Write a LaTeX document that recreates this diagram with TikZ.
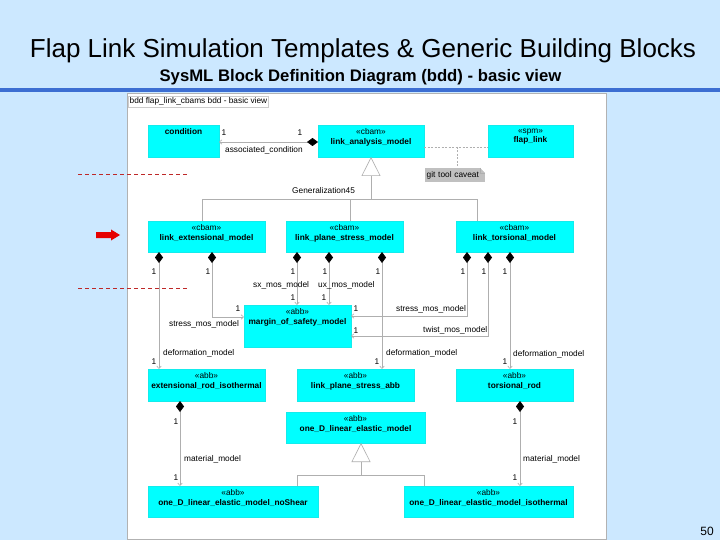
\documentclass[tikz,border=0pt]{standalone}
\usepackage{fontspec}
\setmainfont{Liberation Sans}
\usetikzlibrary{arrows.meta}
\definecolor{bgblue}{RGB}{204,232,255}
\definecolor{barblue}{RGB}{60,110,210}
\definecolor{cyanbox}{RGB}{0,255,255}
\definecolor{lgray}{RGB}{175,175,175}
\definecolor{notegray}{RGB}{192,192,192}
\definecolor{dred}{RGB}{190,40,40}
\definecolor{arrred}{RGB}{230,0,0}
\begin{document}
\begin{tikzpicture}[x=1pt,y=-1pt,
  blk/.style={fill=cyanbox, draw=cyanbox!85!gray, line width=0.4pt, inner sep=0pt, outer sep=0pt, anchor=north west},
  bt/.style={anchor=north, align=center, inner sep=0pt, yshift=-3.5pt, font=\fontsize{8.3}{9.5}\selectfont},
  lab/.style={inner sep=0pt, font=\fontsize{8.3}{9.5}\selectfont},
  comp/.style={draw=lgray, line width=0.6pt, arrows={Diamond[length=11pt,width=8pt,fill=black,color=black]-Straight Barb[length=2.5pt,width=4.5pt,color=lgray]}},
  gen/.style={draw=lgray, line width=0.6pt},
  gentri/.style={draw=lgray, line width=0.6pt, arrows={-Triangle[length=19pt,width=19pt,fill=white,color=lgray]}},
  dep/.style={draw=lgray, line width=0.5pt, dash pattern=on 2pt off 1.5pt},
  reddash/.style={draw=dred, line width=0.8pt, dash pattern=on 4pt off 3pt}
]
\useasboundingbox (0,0) rectangle (720,540);
\fill[bgblue] (0,0) rectangle (720,540);
% title
\node[inner sep=0pt, font=\fontsize{26}{30}\selectfont] (title) at (363,51) {Flap Link Simulation Templates \& Generic Building Blocks};
\node[inner sep=0pt, font=\bfseries\fontsize{16.7}{20}\selectfont] (subtitle) at (360.5,77) {SysML Block Definition Diagram (bdd) - basic view};
\fill[barblue] (0,88) rectangle (720,92.5);
% frame
\draw[fill=white, draw=gray!60, line width=0.8pt] (127,93) rectangle (606,539);
\node[draw=gray!40, fill=white, anchor=north west, inner sep=1.5pt, font=\fontsize{8.3}{9.5}\selectfont] (hdr) at (128,96) {bdd flap\_link\_cbams bdd - basic view};
% red marks
\draw[reddash] (78,174) -- (188,174);
\draw[reddash] (78,288) -- (188,288);
\fill[arrred] (96,232) -- (111,232) -- (111,229.5) -- (120,235) -- (111,240.5) -- (111,238) -- (96,238) -- cycle;
% blocks
\node[blk, minimum width=71pt, minimum height=32pt, label={[bt]north:{\textbf{condition}}}] (cond) at (148,125) {};
\node[blk, minimum width=106pt, minimum height=32pt, label={[bt]north:{«cbam»\\\textbf{link\_analysis\_model}}}] (lam) at (318,125) {};
\node[blk, minimum width=85pt, minimum height=32pt, label={[bt]north:{«spm»\\\textbf{flap\_link}}}] (flap) at (488,125) {};
\node[blk, minimum width=117pt, minimum height=31pt, label={[bt]north:{«cbam»\\\textbf{link\_extensional\_model}}}] (lem) at (148,221) {};
\node[blk, minimum width=117pt, minimum height=31pt, label={[bt]north:{«cbam»\\\textbf{link\_plane\_stress\_model}}}] (lps) at (286,221) {};
\node[blk, minimum width=117pt, minimum height=31pt, label={[bt]north:{«cbam»\\\textbf{link\_torsional\_model}}}] (ltm) at (456,221) {};
\node[blk, minimum width=107pt, minimum height=42pt, label={[bt]north:{«abb»\\\textbf{margin\_of\_safety\_model}}}] (mos) at (244,305) {};
\node[blk, minimum width=117pt, minimum height=32pt, label={[bt]north:{«abb»\\\textbf{extensional\_rod\_isothermal}}}] (eri) at (148,369) {};
\node[blk, minimum width=117pt, minimum height=32pt, label={[bt]north:{«abb»\\\textbf{link\_plane\_stress\_abb}}}] (lpa) at (297,369) {};
\node[blk, minimum width=117pt, minimum height=32pt, label={[bt]north:{«abb»\\\textbf{torsional\_rod}}}] (tor) at (456,369) {};
\node[blk, minimum width=139pt, minimum height=31pt, label={[bt]north:{«abb»\\\textbf{one\_D\_linear\_elastic\_model}}}] (odl) at (286,412) {};
\node[blk, minimum width=170pt, minimum height=31pt, label={[bt]north:{«abb»\\\textbf{one\_D\_linear\_elastic\_model\_noShear}}}] (ons) at (148,486) {};
\node[blk, minimum width=169pt, minimum height=31pt, label={[bt]north:{«abb»\\\textbf{one\_D\_linear\_elastic\_model\_isothermal}}}] (oni) at (404,486) {};
% note
\node[fill=notegray, anchor=north west, minimum width=60pt, minimum height=14pt, inner sep=1.5pt, text width=57pt, align=left, font=\fontsize{8.3}{9.5}\selectfont] (nt) at (425,168) {git tool caveat};
\fill[white] (nt.north east) -- ++(-5,0) -- ++(5,5) -- cycle;
\draw[lgray, line width=0.4pt] (nt.north east) ++(-5,0) -- ++(0,5) -- ++(5,0);
% note dependency
\coordinate (nj) at (457,147);
\draw[dep] (lam.east |- 0,147) -- (flap.west |- 0,147);
\draw[dep] (nj) -- (nt.north -| nj);
% association condition
\draw[comp] (lam.west |- 0,142) -- (cond.east |- 0,142);
\node[lab] (a1) at (224,133) {1};
\node[lab] (a2) at (300,133) {1};
\node[lab, anchor=west] (a3) at (225,150) {associated\_condition};
% generalization 1
\coordinate (g1) at (371,199);
\draw[gen] (202,0 |- lem.north) |- (g1);
\draw[gen] (350,0 |- lps.north) |- (g1);
\draw[gen] (477,0 |- ltm.north) |- (g1);
\draw[gentri] (g1) -- (371,0 |- lam.south);
\node[lab, anchor=west] (gl1) at (292,191) {Generalization45};
% compositions from link_extensional_model
\draw[comp] (159,0 |- lem.south) -- (159,0 |- eri.north);
\node[lab] (m1) at (154,272) {1};
\node[lab, anchor=west] (d1) at (163,353) {deformation\_model};
\node[lab] (m2) at (154,362) {1};
\draw[comp] (212,0 |- lem.south) |- (mos.west |- 0,317);
\node[lab] (m3) at (208,272) {1};
\node[lab] (m4) at (238,309) {1};
\node[lab, anchor=west] (s1) at (169,324) {stress\_mos\_model};
% compositions from link_plane_stress_model
\draw[comp] (297,0 |- lps.south) -- (297,0 |- mos.north);
\node[lab] (m5) at (293,272) {1};
\node[lab, anchor=west] (sx) at (253,285) {sx\_mos\_model};
\node[lab] (m6) at (293,298) {1};
\draw[comp] (329,0 |- lps.south) -- (329,0 |- mos.north);
\node[lab] (m7) at (325,272) {1};
\node[lab, anchor=west] (ux) at (318,285) {ux\_mos\_model};
\node[lab] (m8) at (324,298) {1};
\draw[comp] (382,0 |- lps.south) -- (382,0 |- lpa.north);
\node[lab] (m9) at (378,272) {1};
\node[lab, anchor=west] (d2) at (386,353) {deformation\_model};
\node[lab] (m10) at (377,362) {1};
% compositions from link_torsional_model
\draw[comp] (467,0 |- ltm.south) |- (mos.east |- 0,316);
\node[lab] (m11) at (463,272) {1};
\node[lab, anchor=west] (s2) at (396,309) {stress\_mos\_model};
\node[lab] (m12) at (356,309) {1};
\draw[comp] (488,0 |- ltm.south) |- (mos.east |- 0,336);
\node[lab] (m13) at (484,272) {1};
\node[lab, anchor=west] (tw) at (423,330) {twist\_mos\_model};
\node[lab] (m14) at (356,331) {1};
\draw[comp] (510,0 |- ltm.south) -- (510,0 |- tor.north);
\node[lab] (m15) at (505,272) {1};
\node[lab, anchor=west] (d3) at (513,354) {deformation\_model};
\node[lab] (m16) at (505,362) {1};
% material models
\draw[comp] (180,0 |- eri.south) -- (180,0 |- ons.north);
\node[lab] (m17) at (176,422) {1};
\node[lab, anchor=west] (mm1) at (184,459) {material\_model};
\node[lab] (m18) at (176,478) {1};
\draw[comp] (520,0 |- tor.south) -- (520,0 |- oni.north);
\node[lab] (m19) at (515,422) {1};
\node[lab, anchor=west] (mm2) at (523,459) {material\_model};
\node[lab] (m20) at (515,478) {1};
% generalization 2
\coordinate (g2) at (361,475);
\draw[gen] (297,0 |- ons.north) |- (g2);
\draw[gen] (424,0 |- oni.north) |- (g2);
\draw[gentri] (g2) -- (361,0 |- odl.south);
% page number
\node[inner sep=0pt, font=\fontsize{12}{14}\selectfont] (pg) at (707,531) {50};
\end{tikzpicture}
\end{document}
